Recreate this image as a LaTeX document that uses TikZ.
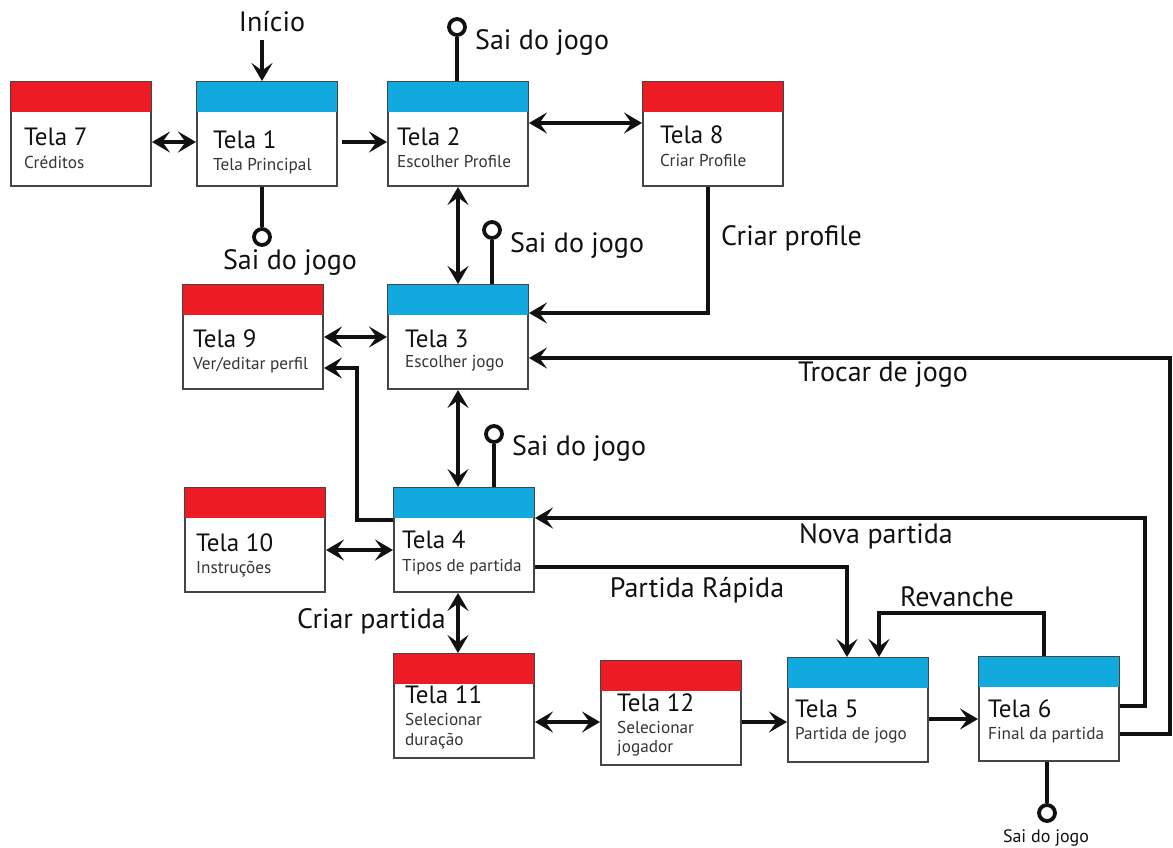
\documentclass[tikz,border=0pt]{standalone}
\usepackage{fontspec}
\setmainfont{PT Sans}
\usetikzlibrary{arrows.meta,calc}
\definecolor{hdrred}{HTML}{ED1C24}
\definecolor{hdrblue}{HTML}{12A9DF}
\definecolor{boxgray}{HTML}{454545}
\definecolor{ink}{HTML}{111111}
\tikzset{
  screen/.style={draw=boxgray, line width=2pt, minimum width=140pt, minimum height=104pt, anchor=north west, inner sep=0pt, fill=white},
  ttl/.style={anchor=west, font=\fontsize{25}{25}\selectfont, inner sep=0pt, text=ink},
  subt/.style={anchor=west, font=\fontsize{17.2}{17.2}\selectfont, inner sep=0pt, text=ink!85},
  lbl/.style={font=\fontsize{28}{28}\selectfont, inner sep=0pt, text=ink},
  smalllbl/.style={font=\fontsize{18}{18}\selectfont, inner sep=0pt, text=ink},
  tip/.tip={Stealth[length=18pt,width=21pt,inset=7.5pt]},
  conn/.style={draw=ink, line width=4.2pt, -tip},
  dconn/.style={draw=ink, line width=4.2pt, tip-tip},
  wire/.style={draw=ink, line width=4.2pt},
  exitc/.style={circle, draw=ink, line width=3.8pt, minimum size=16pt, inner sep=0pt, fill=white},
}
\newcommand\screenbox[4]{%
  \node[screen] (#1) at (#2,#3) {};
  \fill[#4] ([xshift=1pt,yshift=-1pt]#1.north west) rectangle ([xshift=-1pt,yshift=-31pt]#1.north east);
}
\begin{document}
\begin{tikzpicture}[x=1pt,y=-1pt]
\useasboundingbox (0,0) rectangle (1173,847);

% ---- screens
\screenbox{t7}{10}{81}{hdrred}
\screenbox{t1}{196}{81}{hdrblue}
\screenbox{t2}{387}{81}{hdrblue}
\screenbox{t8}{642}{81}{hdrred}
\screenbox{t9}{182}{284}{hdrred}
\screenbox{t3}{387}{284}{hdrblue}
\screenbox{t10}{184}{487}{hdrred}
\screenbox{t4}{393}{487}{hdrblue}
\screenbox{t11}{393}{653}{hdrred}
\screenbox{t12}{600}{660}{hdrred}
\screenbox{t5}{787}{657}{hdrblue}
\screenbox{t6}{978}{656}{hdrblue}

% ---- texts in screens
\node[ttl]  (t7a) at ($(t7.north west)+(14,56)$) {Tela 7};
\node[subt] (t7b) at ($(t7.north west)+(14,81)$) {Créditos};
\node[ttl]  (t1a) at ($(t1.north west)+(17,59)$) {Tela 1};
\node[subt] (t1b) at ($(t1.north west)+(17,85)$) {Tela Principal};
\node[ttl]  (t2a) at ($(t2.north west)+(10,56)$) {Tela 2};
\node[subt] (t2b) at ($(t2.north west)+(10,81)$) {Escolher Profile};
\node[ttl]  (t8a) at ($(t8.north west)+(18,54)$) {Tela 8};
\node[subt] (t8b) at ($(t8.north west)+(18,79)$) {Criar Profile};
\node[ttl]  (t9a) at ($(t9.north west)+(11,55)$) {Tela 9};
\node[subt] (t9b) at ($(t9.north west)+(11,81)$) {Ver/editar perfil};
\node[ttl]  (t3a) at ($(t3.north west)+(18,55)$) {Tela 3};
\node[subt] (t3b) at ($(t3.north west)+(18,79)$) {Escolher jogo};
\node[ttl]  (t10a) at ($(t10.north west)+(12,56)$) {Tela 10};
\node[subt] (t10b) at ($(t10.north west)+(12,82)$) {Instruções};
\node[ttl]  (t4a) at ($(t4.north west)+(9,53)$) {Tela 4};
\node[subt] (t4b) at ($(t4.north west)+(9,80)$) {Tipos de partida};
\node[ttl]  (t11a) at ($(t11.north west)+(12,42)$) {Tela 11};
\node[subt] (t11b) at ($(t11.north west)+(12,66)$) {Selecionar};
\node[subt] (t11c) at ($(t11.north west)+(12,88)$) {duração};
\node[ttl]  (t12a) at ($(t12.north west)+(17,43)$) {Tela 12};
\node[subt] (t12b) at ($(t12.north west)+(17,67)$) {Selecionar};
\node[subt] (t12c) at ($(t12.north west)+(17,88)$) {jogador};
\node[ttl]  (t5a) at ($(t5.north west)+(8,52)$) {Tela 5};
\node[subt] (t5b) at ($(t5.north west)+(8,78)$) {Partida de jogo};
\node[ttl]  (t6a) at ($(t6.north west)+(10,53)$) {Tela 6};
\node[subt] (t6b) at ($(t6.north west)+(10,79)$) {Final da partida};

% ---- start
\node[lbl] (ini) at (272,22) {Início};
\coordinate (iniA) at (262,40);
\draw[conn] (iniA) -- (iniA |- t1.north);

% ---- horizontal links row 1
\draw[dconn] ($(t7.north east)+(0,61)$) -- ($(t1.north west)+(0,61)$);
\draw[conn]  ($(t1.north east)+(4,61)$) -- ($(t2.north west)+(0,61)$);
\draw[dconn] ($(t2.north east)+(0,42)$) -- ($(t8.north west)+(0,42)$);

% ---- exits
\node[exitc] (x1) at (262,237) {};
\draw[wire] (x1 |- t1.south) -- (x1.north);
\node[lbl] (x1l) at (290,262) {Sai do jogo};

\node[exitc] (x2) at (457,27) {};
\draw[wire] (x2 |- t2.north) -- (x2.south);
\node[lbl, anchor=west] (x2l) at (475,42) {Sai do jogo};

\node[exitc] (x3) at (492,230) {};
\draw[wire] (x3 |- t3.north) -- (x3.south);
\node[lbl, anchor=west] (x3l) at (510,245) {Sai do jogo};

\node[exitc] (x4) at (494,434) {};
\draw[wire] (x4 |- t4.north) -- (x4.south);
\node[lbl, anchor=west] (x4l) at (512,448) {Sai do jogo};

\node[exitc] (x6) at (1047,813) {};
\draw[wire] (x6 |- t6.south) -- (x6.north);
\node[smalllbl] (x6l) at (1046,838) {Sai do jogo};

% ---- vertical links
\coordinate (vA) at (458,0);
\draw[dconn] (vA |- t2.south) -- (vA |- t3.north);
\draw[dconn] (vA |- t3.south) -- (vA |- t4.north);
\draw[dconn] (vA |- t4.south) -- (vA |- t11.north);
\node[lbl, anchor=east] (cpl) at (446,621) {Criar partida};

% ---- Criar profile
\coordinate (cp) at (708,313);
\draw[conn] (cp |- t8.south) -- (cp) -- (cp -| t3.east);
\node[lbl, anchor=west] (cprl) at (721,238) {Criar profile};

% ---- t9 <-> t3
\draw[dconn] ($(t9.north east)+(0,53)$) -- ($(t3.north west)+(0,53)$);

% ---- t4 -> t9
\coordinate (b49) at (357,520);
\coordinate (b49u) at (357,368);
\draw[conn] (b49 -| t4.west) -- (b49) -- (b49u) -- (b49u -| t9.east);

% ---- t10 <-> t4
\draw[dconn] ($(t10.north east)+(0,63)$) -- ($(t4.north west)+(0,63)$);

% ---- Trocar de jogo
\coordinate (tj) at (1170,734);
\coordinate (tju) at (1170,358);
\draw[conn] (tj -| t6.east) -- (tj) -- (tju) -- (tju -| t3.east);
\node[lbl] (tjl) at (883,375) {Trocar de jogo};

% ---- Nova partida
\coordinate (np) at (1145,706);
\coordinate (npu) at (1145,518);
\draw[conn] (np -| t6.east) -- (np) -- (npu) -- (npu -| t4.east);
\node[lbl] (npl) at (876,536) {Nova partida};

% ---- Partida Rapida
\coordinate (pr) at (847,567);
\draw[conn] (pr -| t4.east) -- (pr) -- (pr |- t5.north);
\node[lbl] (prl) at (697,590) {Partida Rápida};

% ---- bottom row
\coordinate (r1) at (0,722);
\coordinate (r2) at (0,719);
\draw[dconn] (r1 -| t11.east) -- (r1 -| t12.west);
\draw[conn]  (r1 -| t12.east) -- (r1 -| t5.west);
\draw[conn]  (r2 -| t5.east) -- (r2 -| t6.west);

% ---- Revanche
\coordinate (rv) at (1044,613);
\coordinate (rvl2) at (879,613);
\draw[conn] (rv |- t6.north) -- (rv) -- (rvl2) -- (rvl2 |- t5.north);
\node[lbl] (rvl) at (957,597) {Revanche};
\end{tikzpicture}
\end{document}
